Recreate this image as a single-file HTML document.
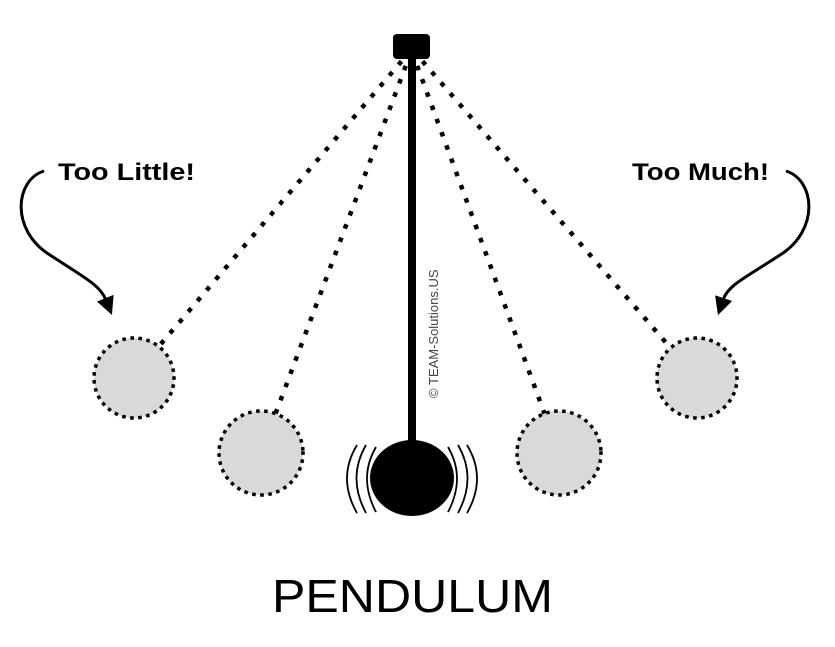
<!DOCTYPE html>
<html><head><meta charset="utf-8"><style>
html,body{margin:0;padding:0;background:#fff;width:835px;height:647px;overflow:hidden}
</style></head><body>
<svg width="835" height="647" viewBox="0 0 835 647" xmlns="http://www.w3.org/2000/svg">
<defs>
<marker id="ah" markerWidth="18" markerHeight="18" refX="2" refY="9" orient="auto" markerUnits="userSpaceOnUse" viewBox="0 0 18 18"><path d="M0,0 L18,9 L0,18 Z" fill="#000"/></marker>
</defs>
<g stroke="#000" stroke-width="4.5" stroke-dasharray="0.1 14" stroke-linecap="square" fill="none">
<line x1="400" y1="63" x2="160" y2="345"/>
<line x1="405" y1="68" x2="275" y2="415"/>
<line x1="418" y1="68" x2="545" y2="415"/>
<line x1="424" y1="63" x2="668" y2="345"/>
</g>
<g fill="#d9d9d9" stroke="#000" stroke-width="3.5" stroke-dasharray="0.1 8" stroke-linecap="square">
<circle cx="134" cy="378" r="40"/>
<circle cx="261" cy="453" r="42"/>
<circle cx="559" cy="453" r="42"/>
<circle cx="697" cy="378" r="40"/>
</g>
<rect x="393" y="34" width="37" height="25" rx="4" fill="#000"/>
<rect x="408" y="56" width="8" height="392" fill="#000"/>
<ellipse cx="412" cy="478" rx="42" ry="38" fill="#000"/>
<g stroke="#000" stroke-width="1.8" fill="none">
<path d="M357,445 Q337,478 357,513"/>
<path d="M366,445 Q347,478 366,513"/>
<path d="M376,447 Q358,478 376,512"/>
<path d="M467,445 Q487,478 467,513"/>
<path d="M458,445 Q477,478 458,513"/>
<path d="M448,447 Q466,478 448,512"/>
</g>
<g stroke="#000" stroke-width="3" fill="none">
<path d="M44,171 C15,180 10,230 50,255 C85,278 100,285 106,300" marker-end="url(#ah)"/>
<path d="M786,171 C815,180 820,230 780,255 C745,278 728,285 723,300" marker-end="url(#ah)"/>
</g>
<text x="58" y="180" font-family="Liberation Sans, sans-serif" font-weight="bold" font-size="24" textLength="137" lengthAdjust="spacingAndGlyphs" fill="#000">Too Little!</text>
<text x="632" y="180" font-family="Liberation Sans, sans-serif" font-weight="bold" font-size="24" textLength="137" lengthAdjust="spacingAndGlyphs" fill="#000">Too Much!</text>
<text transform="translate(438,398) rotate(-90)" font-family="Liberation Sans, sans-serif" font-size="13" fill="#444">© TEAM-Solutions.US</text>
<text x="272" y="612" font-family="Liberation Sans, sans-serif" font-size="46" textLength="281" lengthAdjust="spacingAndGlyphs" fill="#000">PENDULUM</text>
</svg>
</body></html>
